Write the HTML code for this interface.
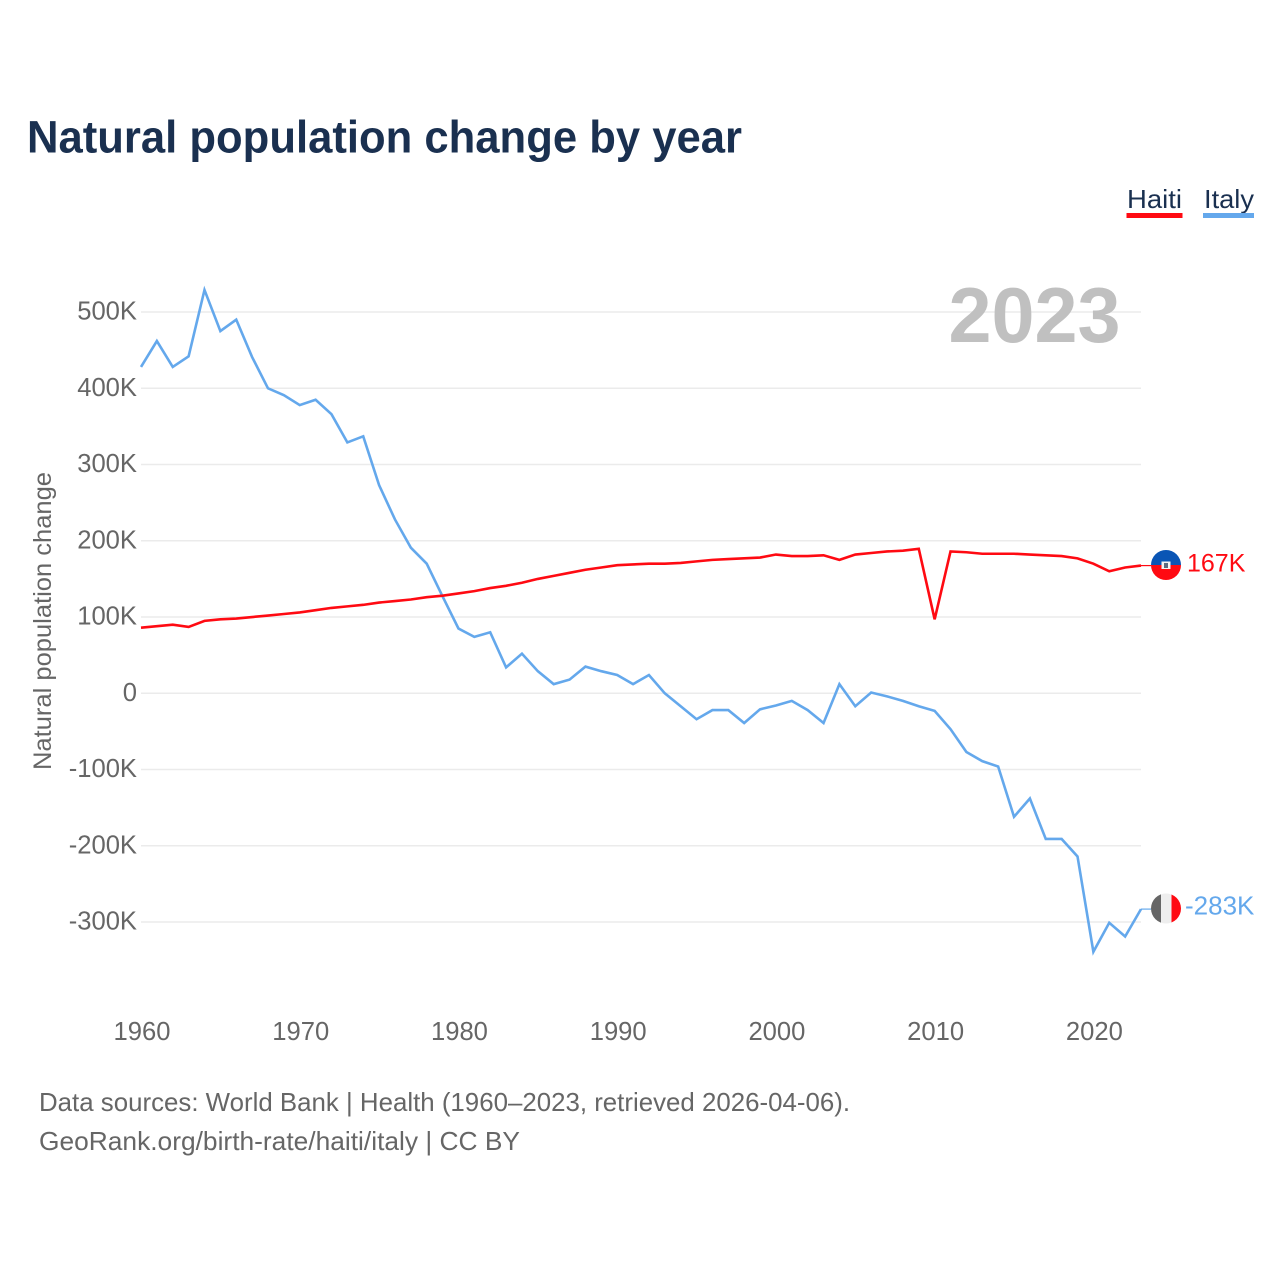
<!DOCTYPE html>
<html lang="en">
<head>
<meta charset="utf-8">
<title>Natural population change by year</title>
<style>
html,body{margin:0;padding:0;background:#fff;width:1280px;height:1280px;overflow:hidden}
svg{display:block}
text{font-family:"Liberation Sans",sans-serif}
</style>
</head>
<body>
<svg id="chart" width="1280" height="1280" viewBox="0 0 1280 1280" xmlns="http://www.w3.org/2000/svg">
  <defs>
    <clipPath id="clip-haiti"><circle cx="1166" cy="565" r="15"/></clipPath>
    <clipPath id="clip-italy"><circle cx="1166" cy="908.5" r="15"/></clipPath>
  </defs>
  <text x="27" y="152.5" font-size="45" font-weight="700" fill="#1a3050" textLength="715" lengthAdjust="spacingAndGlyphs">Natural population change by year</text>

  <g>
    <text x="1127" y="208" font-size="26" fill="#1a3050" textLength="55" lengthAdjust="spacingAndGlyphs">Haiti</text>
    <rect x="1126.5" y="213" width="56" height="5" fill="#ff0a12"/>
  </g>
  <g>
    <text x="1204" y="208" font-size="26" fill="#1a3050" textLength="50" lengthAdjust="spacingAndGlyphs">Italy</text>
    <rect x="1203" y="213" width="51" height="5" fill="#64a8ec"/>
  </g>

  <g id="grid"></g>
  <g id="yticks"></g>
  <g id="xticks"></g>

  <text x="948.5" y="342" font-size="78" font-weight="700" fill="#c0c0c0" textLength="172" lengthAdjust="spacingAndGlyphs">2023</text>

  <text transform="translate(51,621) rotate(-90)" text-anchor="middle" font-size="25" fill="#666" textLength="298" lengthAdjust="spacingAndGlyphs">Natural population change</text>

  <g id="series"></g>

  <g clip-path="url(#clip-haiti)">
    <rect x="1151" y="550" width="30" height="15" fill="#0a55b5"/>
    <rect x="1151" y="565" width="30" height="15" fill="#ff0a12"/>
    <rect x="1161.5" y="561.5" width="9" height="7.5" fill="#f2f2f2"/>
    <rect x="1164" y="563" width="4" height="5" fill="#5a6a80"/>
  </g>
  <g clip-path="url(#clip-italy)">
    <rect x="1151" y="893" width="10" height="31" fill="#666"/>
    <rect x="1161" y="893" width="10.5" height="31" fill="#eeeeee"/>
    <rect x="1171.5" y="893" width="10" height="31" fill="#ff0a12"/>
  </g>

  <text id="label-haiti" x="1187" y="571.5" font-size="25" fill="#ff0a12"></text>
  <text id="label-italy" x="1185" y="914.5" font-size="26" fill="#64a8ec"></text>

  <text x="39" y="1111" font-size="26" fill="#666" textLength="811" lengthAdjust="spacingAndGlyphs">Data sources: World Bank | Health (1960–2023, retrieved 2026-04-06).</text>
  <a><text x="39" y="1150" font-size="26" fill="#666" textLength="481" lengthAdjust="spacingAndGlyphs">GeoRank.org/birth-rate/haiti/italy | CC BY</text></a>
</svg>
<script>
const years = [1960,1961,1962,1963,1964,1965,1966,1967,1968,1969,1970,1971,1972,1973,1974,1975,1976,1977,1978,1979,1980,1981,1982,1983,1984,1985,1986,1987,1988,1989,1990,1991,1992,1993,1994,1995,1996,1997,1998,1999,2000,2001,2002,2003,2004,2005,2006,2007,2008,2009,2010,2011,2012,2013,2014,2015,2016,2017,2018,2019,2020,2021,2022,2023];
const haiti = [86,88,90,87,95,97,98,100,102,104,106,109,112,114,116,119,121,123,126,128,131,134,138,141,145,150,154,158,162,165,168,169,170,170,171,173,175,176,177,178,182,180,180,181,175,182,184,186,187,189.5,97,186,185,183,183,183,182,181,180,177,170,160,165,167.5];
const italy = [428,462,428,442,529,475,490,441,400,391,378,385,366,329,337,273,228,191,170,127,85,74,80,34,52,29,12,18,35,29,24,12,24,0,-17,-34,-22,-22,-39,-21,-16,-10,-22,-39,12,-17,1,-4,-10,-17,-23,-47,-77,-89,-96,-162,-138,-191,-191,-214,-339,-301,-319,-283];
const yTickValues = [500,400,300,200,100,0,-100,-200,-300];
const xTickYears = [1960,1970,1980,1990,2000,2010,2020];

const NS = 'http://www.w3.org/2000/svg';
const xScale = y => 141 + (y - 1960) * (1000 / 63);
const yScale = v => 693.3 - v * 0.7625;
const fmt = v => v === 0 ? '0' : Math.round(v) + 'K';

function make(tag, attrs, parent) {
  const el = document.createElementNS(NS, tag);
  for (const k in attrs) el.setAttribute(k, attrs[k]);
  parent.appendChild(el);
  return el;
}

const grid = document.getElementById('grid');
const yticks = document.getElementById('yticks');
yTickValues.forEach(v => {
  const line = make('line', {x1: 141, x2: 1141, y1: yScale(v), y2: yScale(v), stroke: '#ebebeb', 'stroke-width': 1.5}, grid);
  
  
  const t = make('text', {x: 137, y: yScale(v) + 7.5, 'text-anchor': 'end', 'font-size': 25.6, fill: '#666'}, yticks);
  
  
  t.textContent = fmt(v);
});

const xticks = document.getElementById('xticks');
xTickYears.forEach(y => {
  const t = make('text', {x: xScale(y) + 1, y: 1040, 'text-anchor': 'middle', 'font-size': 25.6, fill: '#666'}, xticks);
  
  
  t.textContent = y;
});

const series = document.getElementById('series');
function drawSeries(values, color, name) {
  const pts = values.map((v, i) => xScale(years[i]).toFixed(2) + ',' + yScale(v).toFixed(2)).join(' ');
  const line = make('polyline', {points: pts, fill: 'none', stroke: color, 'stroke-width': 2.6, 'stroke-linejoin': 'miter'}, series);
  
  
  const last = values.length - 1;
  const conn = make('line', {x1: xScale(years[last]), x2: xScale(years[last]) + 10, y1: yScale(values[last]), y2: yScale(values[last]), stroke: color, 'stroke-width': 1.2}, series);
  
  
}
drawSeries(italy, '#64a8ec', 'italy-line');
drawSeries(haiti, '#ff0a12', 'haiti-line');

document.getElementById('label-haiti').textContent = fmt(Math.floor(haiti[haiti.length - 1]));
document.getElementById('label-italy').textContent = fmt(italy[italy.length - 1]);
</script>
</body>
</html>
